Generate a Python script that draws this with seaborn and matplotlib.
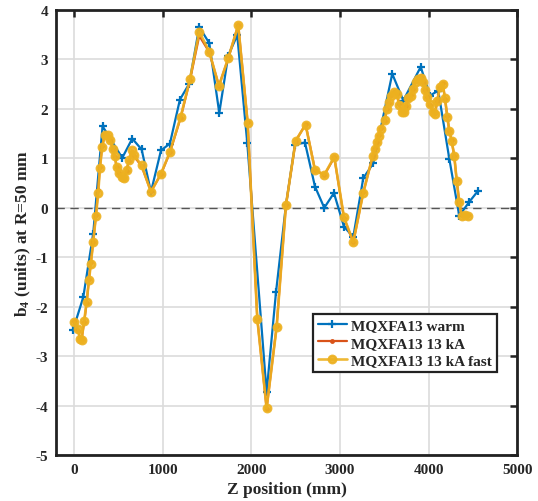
import matplotlib
matplotlib.use("Agg")
import matplotlib.pyplot as plt
import seaborn as sns
import pandas as pd

# ---- data ----
warm_z = [-15, 102, 214, 320, 542, 655, 761, 866, 979, 1080, 1193, 1298, 1411, 1524, 1637,
          1738, 1840, 1953, 2171, 2277, 2389, 2491, 2604, 2717, 2822, 2931, 3044, 3149, 3262,
          3375, 3589, 3714, 3910, 4015, 4108, 4233, 4345, 4458, 4560]
warm_b4 = [-2.48, -1.81, -0.53, 1.65, 1.01, 1.40, 1.18, 0.32, 1.16, 1.30, 2.19, 2.51, 3.66,
           3.33, 1.92, 3.08, 3.49, 1.31, -3.73, -1.71, 0.05, 1.28, 1.32, 0.43, 0.00, 0.30,
           -0.38, -0.59, 0.60, 0.90, 2.71, 2.17, 2.85, 2.27, 2.37, 0.99, -0.16, 0.12, 0.35]

cold_z = [0, 45, 64, 83, 113, 140, 166, 188, 214, 245, 271, 290, 316, 347, 377, 403, 440, 459,
          478, 505, 535, 564, 591, 617, 648, 677, 761, 866, 979, 1080, 1201, 1306, 1411, 1524,
          1633, 1738, 1851, 1957, 2066, 2171, 2284, 2389, 2499, 2611, 2717, 2822, 2935, 3044,
          3149, 3262, 3368, 3394, 3413, 3442, 3462, 3507, 3526, 3556, 3574, 3608, 3639, 3668,
          3695, 3721, 3744, 3770, 3797, 3826, 3853, 3883, 3910, 3932, 3958, 3984, 4015, 4045,
          4071, 4097, 4127, 4158, 4184, 4210, 4233, 4259, 4289, 4316, 4345, 4372, 4410, 4447]
cold_b4 = [-2.28, -2.50, -2.63, -2.66, -2.30, -1.93, -1.45, -1.10, -0.70, -0.15, 0.36, 0.82,
           1.25, 1.49, 1.46, 1.37, 1.17, 1.03, 0.83, 0.70, 0.63, 0.61, 0.75, 0.95, 1.13, 1.04,
           0.84, 0.33, 0.68, 1.12, 1.82, 2.58, 3.48, 3.15, 2.47, 3.02, 3.70, 1.73, -2.24, -4.06,
           -2.40, 0.05, 1.35, 1.69, 0.77, 0.66, 1.02, -0.20, -0.70, 0.31, 1.04, 1.20, 1.33, 1.48,
           1.62, 1.76, 2.00, 2.12, 2.28, 2.34, 2.30, 2.10, 1.95, 1.93, 2.05, 2.23, 2.28, 2.40,
           2.56, 2.63, 2.66, 2.55, 2.38, 2.25, 2.08, 1.95, 1.91, 2.16, 2.45, 2.52, 2.21, 1.85,
           1.55, 1.37, 1.04, 0.56, 0.11, -0.15, -0.14, -0.15]

fast_z = cold_z
fast_b4 = [-2.30, -2.45, -2.65, -2.67, -2.28, -1.90, -1.47, -1.13, -0.69, -0.17, 0.30, 0.80,
           1.23, 1.48, 1.47, 1.38, 1.18, 1.05, 0.82, 0.71, 0.62, 0.60, 0.76, 0.96, 1.16, 1.06,
           0.86, 0.32, 0.69, 1.13, 1.84, 2.60, 3.56, 3.16, 2.46, 3.03, 3.69, 1.72, -2.25, -4.05,
           -2.42, 0.05, 1.36, 1.68, 0.76, 0.67, 1.03, -0.19, -0.69, 0.30, 1.05, 1.19, 1.34, 1.46,
           1.60, 1.77, 1.99, 2.13, 2.27, 2.35, 2.31, 2.07, 1.94, 1.94, 2.06, 2.22, 2.27, 2.41,
           2.54, 2.61, 2.63, 2.54, 2.39, 2.24, 2.09, 1.94, 1.90, 2.17, 2.44, 2.51, 2.22, 1.84,
           1.56, 1.36, 1.05, 0.55, 0.12, -0.16, -0.14, -0.16]

labels = ["MQXFA13 warm", "MQXFA13 13 kA", "MQXFA13 13 kA fast"]
x_ticks = [0, 1000, 2000, 3000, 4000, 5000]
y_ticks = [-5, -4, -3, -2, -1, 0, 1, 2, 3, 4]

# ---- style ----
sns.set_style("whitegrid")
plt.rcParams["font.family"] = ["Liberation Serif", "DejaVu Serif"]
plt.rcParams["font.weight"] = "bold"
plt.rcParams["mathtext.default"] = "regular"
plt.rcParams["axes.unicode_minus"] = False

fig = plt.figure(figsize=(5.38, 5.02), dpi=100)
ax = fig.add_axes([0.105, 0.0916, 0.8565, 0.8864])

c_blue, c_red, c_yel = "#0072BD", "#D95319", "#EDB120"

ax.axhline(0, color="#555555", lw=1.0, ls=(0, (6, 4)), zorder=1)

sns.lineplot(x=warm_z, y=warm_b4, sort=False, estimator=None, ax=ax, color=c_blue,
             lw=1.6, marker="+", markersize=6, markeredgewidth=1.6,
             markeredgecolor=c_blue, label=labels[0], zorder=3)
sns.lineplot(x=cold_z, y=cold_b4, sort=False, estimator=None, ax=ax, color=c_red,
             lw=1.6, marker="o", markersize=3.5, markeredgewidth=0,
             markerfacecolor=c_red, label=labels[1], zorder=4)
sns.lineplot(x=fast_z, y=fast_b4, sort=False, estimator=None, ax=ax, color=c_yel,
             lw=1.9, marker="o", markersize=5.5, markeredgewidth=1.6,
             markerfacecolor=c_yel, markeredgecolor=c_yel, alpha=0.9,
             label=labels[2], zorder=5)

ax.set_xlim(-200, 5000)
ax.set_ylim(-5, 4)
ax.set_xticks(x_ticks)
ax.set_yticks(y_ticks)
ax.grid(True, color="#dcdcdc", lw=1.2)
ax.tick_params(direction="in", top=True, right=True, length=5, width=1.8,
               labelsize=11, color="#222222", pad=6)
for lab in ax.get_xticklabels() + ax.get_yticklabels():
    lab.set_fontweight("bold")
for sp in ax.spines.values():
    sp.set_color("#222222")
    sp.set_linewidth(2.0)

ax.set_xlabel("Z position (mm)", fontsize=12.5, fontweight="bold", labelpad=3)
ax.set_ylabel("b$_4$ (units) at R=50 mm", fontsize=12.5, fontweight="bold", labelpad=2)

leg = ax.legend(loc="lower left", bbox_to_anchor=(0.557, 0.187), fancybox=False,
                framealpha=1, edgecolor="#222222", handlelength=1.9,
                borderpad=0.3, labelspacing=0.25, handletextpad=0.3, borderaxespad=0,
                prop={"weight": "bold", "size": 11})
leg.get_frame().set_linewidth(1.6)

fig.savefig("out.png", dpi=100)
